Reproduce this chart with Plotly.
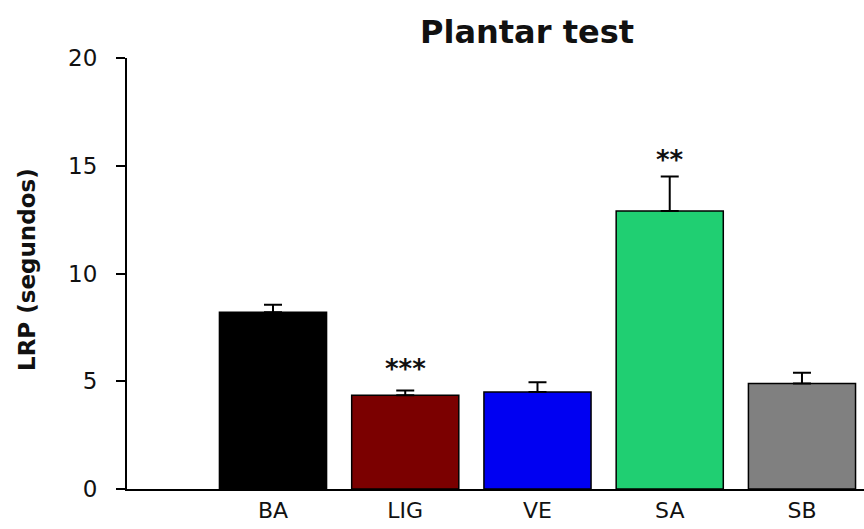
import plotly.graph_objects as go

categories = ["BA", "LIG", "VE", "SA", "SB"]
means = [8.2, 4.35, 4.5, 12.9, 4.9]
errors = [0.35, 0.22, 0.45, 1.6, 0.5]
colors = ["#000000", "#7b0000", "#0000f2", "#20cf72", "#808080"]
sig_labels = ["", "***", "", "**", ""]
sig_heights = [0, 5.55, 0, 15.25, 0]

FONT = "'DejaVu Sans', Arial, sans-serif"

fig = go.Figure()
fig.add_trace(go.Bar(
    x=list(range(len(categories))),
    y=means,
    marker=dict(color=colors, line=dict(color="black", width=1.5)),
    error_y=dict(type="data", array=errors, arrayminus=[0] * len(errors),
                 symmetric=False, color="black", thickness=2, width=9),
    width=0.81,
    showlegend=False,
    hoverinfo="skip",
))

for i, (lab, h) in enumerate(zip(sig_labels, sig_heights)):
    if lab:
        fig.add_annotation(x=i, y=h, text="<b>" + lab + "</b>", showarrow=False,
                           font=dict(family=FONT, size=26, color="#111"),
                           xref="x", yref="y", yanchor="middle")

# y-axis title as annotation (pixel-placed via paper coordinates)
fig.add_annotation(text="<b>LRP (segundos)</b>", textangle=-90,
                   xref="paper", yref="paper", x=(27 - 127) / 737, y=(489 - 270) / 431,
                   xanchor="center", yanchor="middle", showarrow=False,
                   font=dict(family=FONT, size=23, color="#111"))

fig.update_layout(
    width=864, height=529,
    margin=dict(l=127, r=0, t=58, b=40),
    paper_bgcolor="white", plot_bgcolor="white",
    title=dict(text="<b>Plantar test</b>", x=527 / 864, xanchor="center",
               y=1 - 32 / 529, yanchor="middle",
               font=dict(family=FONT, size=32, color="#111")),
    font=dict(family=FONT, color="#111"),
)

fig.update_xaxes(
    range=[-1.104, 4.469],
    tickmode="array", tickvals=list(range(len(categories))), ticktext=categories,
    showline=True, linecolor="black", linewidth=2,
    ticks="", showgrid=False, zeroline=False,
    tickfont=dict(family=FONT, size=22, color="#111"),
    ticklabelstandoff=1,
    automargin=False,
)
fig.update_yaxes(
    range=[0, 20], tickvals=[0, 5, 10, 15, 20],
    showline=True, linecolor="black", linewidth=2,
    ticks="outside", ticklen=9, tickwidth=2, tickcolor="black",
    showgrid=False, zeroline=False,
    tickfont=dict(family=FONT, size=23, color="#111"),
    ticklabelstandoff=14,
    automargin=False,
)

fig.write_html("out.html")
